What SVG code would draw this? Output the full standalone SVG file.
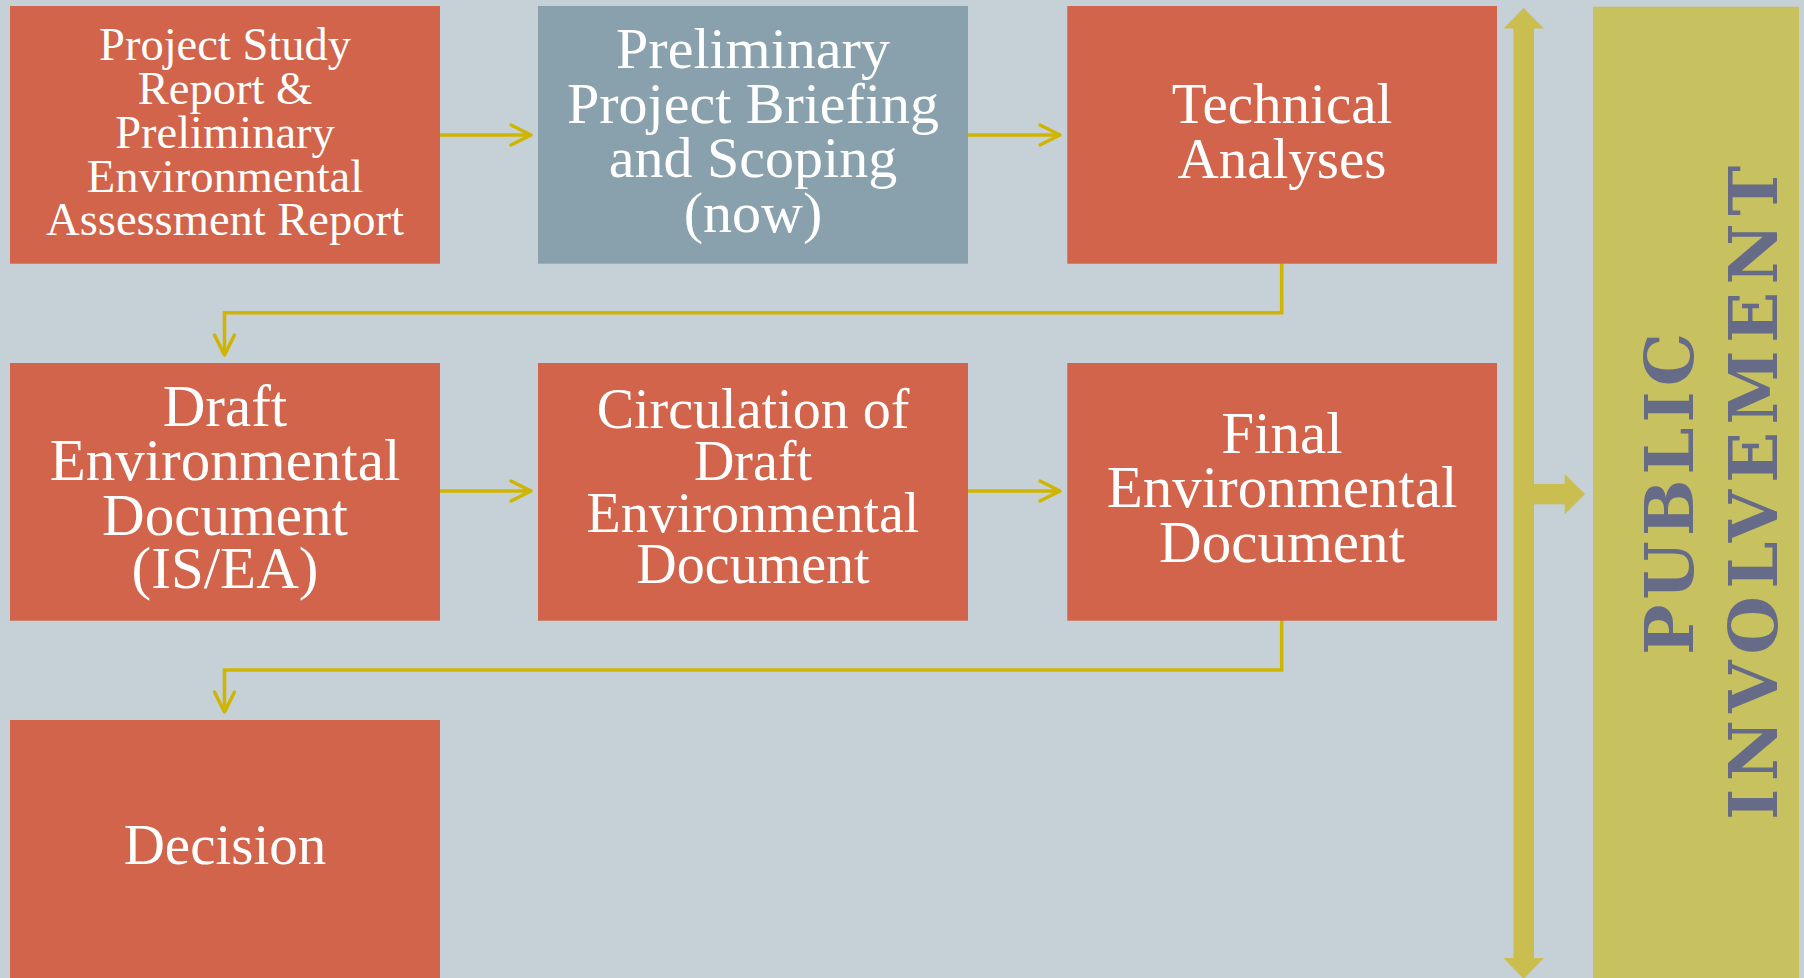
<svg xmlns="http://www.w3.org/2000/svg" width="1804" height="978" viewBox="0 0 1804 978">
<style>
.bg{fill:#C6D1D7}
.box{fill:#D1644A}
.gray{fill:#89A0AD}
.t{font-family:"Liberation Serif","Times New Roman",serif;fill:#FFFFFF;text-anchor:middle}
.conn{fill:none;stroke:#CFB500;stroke-width:3.5;stroke-linecap:round;stroke-linejoin:miter}
.head{fill:none;stroke:#CFB500;stroke-width:3.5;stroke-linecap:round;stroke-linejoin:round}
.big{fill:#C9BE4F}
.pi{font-family:"DejaVu Serif","Liberation Serif",serif;font-weight:bold;fill:#666B88;text-anchor:middle;font-size:67px}
</style>
<rect class="bg" x="0" y="0" width="1804" height="978"/>

<g id="connectors">
  <line class="conn" x1="440" y1="135" x2="530" y2="135"/>
  <polyline class="head" points="511,125 531,135 511,145"/>
  <line class="conn" x1="968" y1="135" x2="1059" y2="135"/>
  <polyline class="head" points="1040,125 1060,135 1040,145"/>
  <line class="conn" x1="440" y1="491" x2="530" y2="491"/>
  <polyline class="head" points="511,481 531,491 511,501"/>
  <line class="conn" x1="968" y1="491" x2="1059" y2="491"/>
  <polyline class="head" points="1040,481 1060,491 1040,501"/>
  <polyline class="conn" points="1281.7,263.5 1281.7,312.7 224.5,312.7 224.5,354"/>
  <polyline class="head" points="214.5,335 224.5,355 234.5,335"/>
  <polyline class="conn" points="1281.7,620.5 1281.7,670 224.5,670 224.5,711"/>
  <polyline class="head" points="214.5,692 224.5,712 234.5,692"/>
  <g id="double-arrow">
    <rect class="big" x="1513.5" y="27" width="20.5" height="933"/>
    <polygon class="big" points="1523.7,8 1544,28.5 1503.5,28.5"/>
    <polygon class="big" points="1503.5,958 1544,958 1523.7,979"/>
    <rect class="big" x="1533" y="484" width="32" height="20.3"/>
    <polygon class="big" points="1564.7,474 1585,494 1564.7,514.3"/>
  </g>
</g>

<g id="node-psr">
  <rect class="box" x="10" y="6" width="430" height="257.7"/>
  <text class="t" font-size="46.5"><tspan x="225" y="60">Project Study</tspan><tspan x="225" y="104.3">Report &amp;</tspan><tspan x="225" y="148">Preliminary</tspan><tspan x="225" y="191.5">Environmental</tspan><tspan x="225" y="235">Assessment Report</tspan></text>
</g>

<g id="node-briefing">
  <rect class="gray" x="538" y="6" width="430" height="257.7"/>
  <text class="t" font-size="58"><tspan x="753" y="68.3">Preliminary</tspan><tspan x="753" y="123">Project Briefing</tspan><tspan x="753" y="177">and Scoping</tspan><tspan x="753" y="231.7">(now)</tspan></text>
</g>

<g id="node-technical">
  <rect class="box" x="1067.3" y="6" width="429.7" height="257.7"/>
  <text class="t" font-size="57"><tspan x="1282" y="123.3">Technical</tspan><tspan x="1282" y="178.3">Analyses</tspan></text>
</g>

<g id="node-draft">
  <rect class="box" x="10" y="363" width="430" height="257.7"/>
  <text class="t" font-size="59"><tspan x="225" y="425.7">Draft</tspan><tspan x="225" y="480">Environmental</tspan><tspan x="225" y="535">Document</tspan><tspan x="225" y="588.3">(IS/EA)</tspan></text>
</g>

<g id="node-circulation">
  <rect class="box" x="538" y="363" width="430" height="257.7"/>
  <text class="t" font-size="56"><tspan x="753" y="428.3">Circulation of</tspan><tspan x="753" y="480">Draft</tspan><tspan x="753" y="532.3">Environmental</tspan><tspan x="753" y="583.3">Document</tspan></text>
</g>

<g id="node-final">
  <rect class="box" x="1067.3" y="363" width="429.7" height="257.7"/>
  <text class="t" font-size="59"><tspan x="1282" y="453.3">Final</tspan><tspan x="1282" y="506.7">Environmental</tspan><tspan x="1282" y="561.7">Document</tspan></text>
</g>

<g id="node-decision">
  <rect class="box" x="10" y="720" width="430" height="260"/>
  <text class="t" font-size="57" x="225" y="864.3">Decision</text>
</g>

<g id="node-public">
  <rect fill="#C8C15F" x="1593" y="6.7" width="206" height="973"/>
  <text class="pi" transform="translate(1692.7,494) rotate(-90)" textLength="322" lengthAdjust="spacing">PUBLIC</text>
  <text class="pi" transform="translate(1776.7,493) rotate(-90)" textLength="654" lengthAdjust="spacing">INVOLVEMENT</text>
</g>
</svg>
